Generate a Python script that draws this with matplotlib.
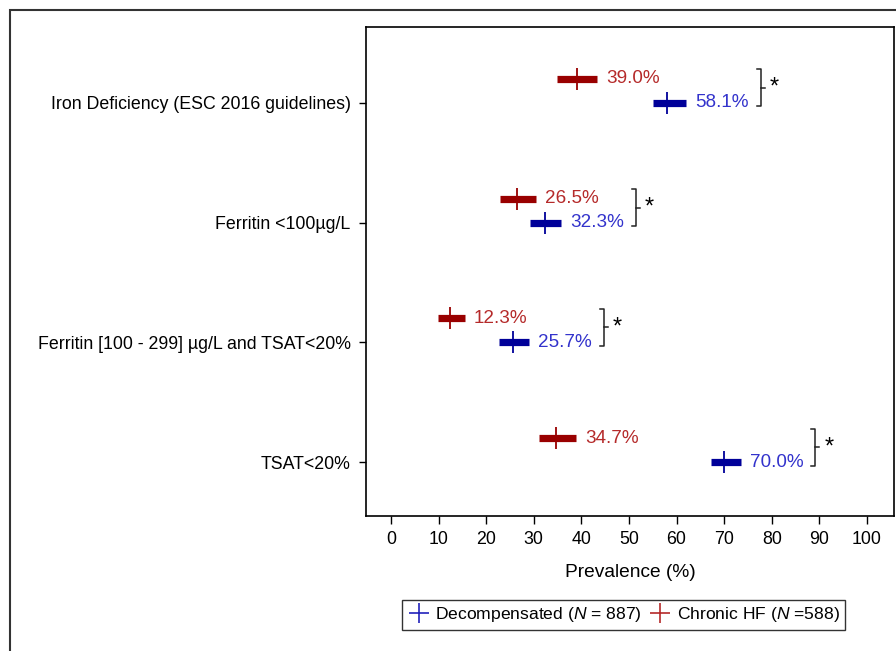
import numpy as np
import matplotlib.pyplot as plt
from matplotlib.patches import Rectangle
from matplotlib.lines import Line2D

plt.rcParams['font.family'] = ['Liberation Sans', 'DejaVu Sans']
plt.rcParams['mathtext.fontset'] = 'custom'
plt.rcParams['mathtext.rm'] = 'Liberation Sans'
plt.rcParams['mathtext.it'] = 'Liberation Sans:italic'

# data
categories = ['Iron Deficiency (ESC 2016 guidelines)', 'Ferritin <100µg/L',
              'Ferritin [100 - 299] µg/L and TSAT<20%', 'TSAT<20%']
chronic = [39.0, 26.5, 12.3, 34.7]
chronic_lo = [34.9, 22.9, 9.9, 31.1]
chronic_hi = [43.3, 30.5, 15.5, 38.9]
decomp = [58.1, 32.3, 25.7, 70.0]
decomp_lo = [55.0, 29.2, 22.7, 67.2]
decomp_hi = [62.0, 35.7, 29.0, 73.5]
signif = ['*', '*', '*', '*']
xticks = np.arange(0, 101, 10)

red_bar, red_txt = '#990000', '#b52a2a'
blue_bar, blue_txt = '#000099', '#3333cc'

fig = plt.figure(figsize=(8.96, 6.51), dpi=100)
ax = fig.add_axes([366/896, 1-516/651, (894-366)/896, (516-27)/651])

# outer frame of the figure
fig.patches.append(Rectangle((10/896, -0.1), 1.0, 1.1-10/651, transform=fig.transFigure,
                             fill=False, edgecolor='#333333', linewidth=1.5))

y = np.arange(len(categories))
off = 0.2

labels = []
for i in range(len(categories)):
    for val, lo, hi, yy, cb, ct in [(chronic[i], chronic_lo[i], chronic_hi[i], y[i]-off, red_bar, red_txt),
                                     (decomp[i], decomp_lo[i], decomp_hi[i], y[i], blue_bar, blue_txt)]:
        ax.plot([lo, hi], [yy, yy], color=cb, lw=5.2, solid_capstyle='butt')
        ax.plot([val], [yy], marker='|', ms=16, mew=1.3, color=cb)
        t = ax.annotate(f'{val:.1f}%', (hi, yy), xytext=(6.5, 0), textcoords='offset points',
                        ha='left', va='center', color=ct, fontsize=13.6)
        labels.append(t)

ax.set_xlim(-5.25, 105.7)
ax.set_ylim(3.45, -0.633)
ax.set_xticks(xticks)
ax.set_yticks(y)
ax.set_yticklabels(categories)
ax.tick_params(axis='x', length=6, width=1, labelsize=12.8, pad=5)
ax.tick_params(axis='y', length=5, width=1, labelsize=12.8, pad=6)
ax.set_xlabel('Prevalence (%)', fontsize=13.8, labelpad=11)
for s in ax.spines.values():
    s.set_linewidth(1.2)

# significance brackets placed right of the labels
fig.canvas.draw()
r = fig.canvas.get_renderer()
inv = ax.transData.inverted()
for i in range(len(categories)):
    x1 = max(labels[2*i].get_window_extent(r).x1, labels[2*i+1].get_window_extent(r).x1) + 12
    xb = inv.transform((x1, 0))[0]
    arm = inv.transform((x1 + 4, 0))[0] - xb
    ytop, ybot = y[i] - off - 0.08, y[i] + 0.03
    ym = (ytop + ybot) / 2
    ax.plot([xb - arm, xb, xb, xb - arm], [ytop, ytop, ybot, ybot], color='#222222', lw=1.1, clip_on=False)
    ax.plot([xb, xb + arm], [ym, ym], color='#222222', lw=1.1, clip_on=False)
    ax.text(xb + 2.2*arm, ym, signif[i], ha='left', va='center', fontsize=17, color='black')

handles = [Line2D([], [], ls='none', marker='+', ms=15, mew=1.2, color='#2222bb'),
           Line2D([], [], ls='none', marker='+', ms=15, mew=1.2, color='#b52a2a')]
leg = fig.legend(handles, [r'Decompensated ($\it{N}$ = 887)', r'Chronic HF ($\it{N}$ =588)'],
                 loc='center', bbox_to_anchor=(623.5/896, 1-615/651), ncol=2, fontsize=12.6,
                 frameon=True, fancybox=False, edgecolor='black', handletextpad=0.3,
                 columnspacing=0.4, borderpad=0.3, handlelength=1.3)
leg.get_frame().set_linewidth(1.0)

fig.savefig('out.png', dpi=100)
